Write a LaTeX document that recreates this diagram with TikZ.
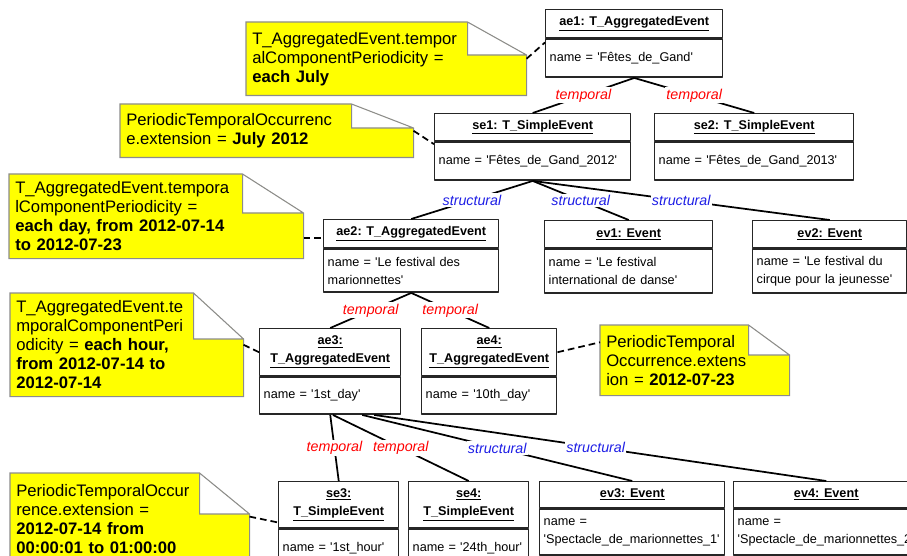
\documentclass[tikz,border=0pt]{standalone}
\usepackage{fontspec}
\setmainfont{Liberation Sans}
\usetikzlibrary{positioning,backgrounds}
\definecolor{noteyellow}{RGB}{255,255,0}
\definecolor{notegray}{RGB}{140,140,140}
\definecolor{tempred}{RGB}{255,0,0}
\definecolor{structblue}{RGB}{30,30,230}
\newcommand{\boxfont}{\fontsize{9.5}{13.5}\selectfont}
\newcommand{\notefont}{\fontsize{12.5}{14.25}\selectfont}
\newcommand{\lblfont}{\fontsize{10.7}{12}\selectfont\itshape}
\newcommand{\sq}{\textquotesingle}
\tikzset{
  objhead/.style={draw=black!85, line width=1.1pt, anchor=north west, inner sep=0pt, align=center, font=\boxfont\bfseries},
  objbody/.style={draw=black!85, line width=1.1pt, anchor=north west, inner xsep=3pt, inner ysep=0pt, align=left, font=\boxfont},
  notebox/.style={anchor=north west, inner xsep=4.5pt, inner ysep=0pt, align=left, font=\notefont},
  notepaper/.style={fill=noteyellow, draw=notegray, line width=0.8pt},
  link/.style={line width=1.3pt},
  notelink/.style={line width=1.3pt, dash pattern=on 5pt off 3pt},
  temporal/.style={fill=white, text=tempred, font=\lblfont, inner sep=1pt},
  structural/.style={fill=white, text=structblue, font=\lblfont, inner sep=1pt}
}
\begin{document}
\begin{tikzpicture}[x=0.75pt, y=-0.75pt, line join=round]
  \useasboundingbox (0,0) rectangle (907,556);
  % objects
  \node[objhead, minimum width=132.75pt, minimum height=21pt] (ae1) at (545,9) {\underline{ae1: T\_AggregatedEvent}};
  \node[objbody, text width=126.75pt, minimum height=28.5pt] (ae1b) at (ae1.south west) {name = \sq F\^etes\_de\_Gand\sq};
  \node[objhead, minimum width=147pt, minimum height=20.25pt] (se1) at (434,113) {\underline{se1: T\_SimpleEvent}};
  \node[objbody, text width=141pt, minimum height=28.5pt] (se1b) at (se1.south west) {name = \sq F\^etes\_de\_Gand\_2012\sq};
  \node[objhead, minimum width=149.25pt, minimum height=20.25pt] (se2) at (654,113) {\underline{se2: T\_SimpleEvent}};
  \node[objbody, text width=143.25pt, minimum height=28.5pt] (se2b) at (se2.south west) {name = \sq F\^etes\_de\_Gand\_2013\sq};
  \node[objhead, minimum width=131.25pt, minimum height=21pt] (ae2) at (323,219) {\underline{ae2: T\_AggregatedEvent}};
  \node[objbody, text width=125.25pt, minimum height=32.25pt] (ae2b) at (ae2.south west) {name = \sq Le festival des\\marionnettes\sq};
  \node[objhead, minimum width=126pt, minimum height=20.25pt] (ev1) at (544,220) {\underline{ev1: Event}};
  \node[objbody, text width=120pt, minimum height=33pt] (ev1b) at (ev1.south west) {name = \sq Le festival\\international de danse\sq};
  \node[objhead, minimum width=115.5pt, minimum height=20.25pt] (ev2) at (752,220) {\underline{ev2: Event}};
  \node[objbody, text width=109.5pt, minimum height=33pt] (ev2b) at (ev2.south west) {name = \sq Le festival du\\cirque pour la jeunesse\sq};
  \node[objhead, minimum width=105.75pt, minimum height=35.25pt] (ae3) at (259,328) {\underline{ae3:}\\\underline{T\_AggregatedEvent}};
  \node[objbody, text width=99.75pt, minimum height=27.75pt] (ae3b) at (ae3.south west) {name = \sq 1st\_day\sq};
  \node[objhead, minimum width=101.25pt, minimum height=35.25pt] (ae4) at (421,328) {\underline{ae4:}\\\underline{T\_AggregatedEvent}};
  \node[objbody, text width=95.25pt, minimum height=27.75pt] (ae4b) at (ae4.south west) {name = \sq 10th\_day\sq};
  \node[objhead, minimum width=90pt, minimum height=34.5pt] (se3) at (278,481) {\underline{se3:}\\\underline{T\_SimpleEvent}};
  \node[objbody, text width=84pt, minimum height=28.5pt] (se3b) at (se3.south west) {name = \sq 1st\_hour\sq};
  \node[objhead, minimum width=90pt, minimum height=34.5pt] (se4) at (408,481) {\underline{se4:}\\\underline{T\_SimpleEvent}};
  \node[objbody, text width=84pt, minimum height=28.5pt] (se4b) at (se4.south west) {name = \sq 24th\_hour\sq};
  \node[objhead, minimum width=138.75pt, minimum height=19.5pt] (ev3) at (539,481) {\underline{ev3: Event}};
  \node[objbody, text width=132.75pt, minimum height=34.5pt] (ev3b) at (ev3.south west) {name =\\\sq Spectacle\_de\_marionnettes\_1\sq};
  \node[objhead, minimum width=138.75pt, minimum height=19.5pt] (ev4) at (733,481) {\underline{ev4: Event}};
  \node[objbody, text width=132.75pt, minimum height=34.5pt] (ev4b) at (ev4.south west) {name =\\\sq Spectacle\_de\_marionnettes\_2\sq};
  % notes
  \node[notebox, text width=201pt, minimum height=54.75pt] (n1) at (246,22) {T\_AggregatedEvent.tempor\\alComponentPeriodicity =\\\textbf{each July}};
  \node[notebox, text width=210.75pt, minimum height=39.75pt] (n2) at (120,104) {PeriodicTemporalOccurrenc\\e.extension = \textbf{July 2012}};
  \node[notebox, text width=211.5pt, minimum height=63pt] (n3) at (9,174) {T\_AggregatedEvent.tempora\\lComponentPeriodicity =\\\textbf{each day, from 2012-07-14}\\\textbf{to 2012-07-23}};
  \node[notebox, text width=165.75pt, minimum height=77.25pt] (n4) at (10,293) {T\_AggregatedEvent.te\\mporalComponentPeri\\odicity = \textbf{each hour,}\\\textbf{from 2012-07-14 to}\\\textbf{2012-07-14}};
  \node[notebox, text width=132.75pt, minimum height=52.5pt] (n5) at (600,325) {PeriodicTemporal\\Occurrence.extens\\ion = \textbf{2012-07-23}};
  \node[notebox, text width=170.25pt, minimum height=68pt] (n6) at (10,473) {PeriodicTemporalOccur\\rence.extension =\\\textbf{2012-07-14 from}\\\textbf{00:00:01 to 01:00:00}};
  \begin{scope}[on background layer]
    \foreach \n/\fx/\fy in {n1/59/33, n2/62/24, n3/61/39, n4/50/46, n5/41/30, n6/50/41}
      \filldraw[notepaper] (\n.north west) -- ([shift={(-\fx,0)}]\n.north east)
        -- ([shift={(0,\fy)}]\n.north east) -- (\n.south east) -- (\n.south west) -- cycle
        ([shift={(-\fx,0)}]\n.north east) -- ([shift={(-\fx,\fy)}]\n.north east) -- ([shift={(0,\fy)}]\n.north east);
  \end{scope}
  % links
  \draw[link] (ae1b.south) -- node[temporal] {temporal} (se1.north);
  \draw[link] (ae1b.south) -- node[temporal] {temporal} (se2.north);
  \draw[link] (se1b.south) -- node[structural] {structural} (ae2.north);
  \draw[link] (se1b.south) -- node[structural] {structural} (ev1.north);
  \draw[link] (se1b.south) -- node[structural] {structural} (ev2.north);
  \draw[link] (ae2b.south) -- node[temporal] {temporal} (ae3.north);
  \draw[link] (ae2b.south) -- node[temporal] {temporal} (ae4.north);
  \draw[link] (ae3b.south) -- node[temporal] {temporal} (se3.north);
  \draw[link] ([xshift=2pt]ae3b.south) -- node[temporal] {temporal} (se4.north);
  \draw[link] ([xshift=24pt]ae3b.south) -- node[structural] {structural} (ev3.north);
  \draw[link] ([xshift=33pt]ae3b.south) -- node[structural, pos=0.49] {structural} (ev4.north);
  % note links
  \draw[notelink] (n1.east) -- ([yshift=-3pt]ae1.south west);
  \draw[notelink] (n2.east) -- ([yshift=-2pt]se1.south west);
  \draw[notelink] ([shift={(0,4)}]n3.east |- ae2.west) -- ([shift={(0,4)}]ae2.west);
  \draw[notelink] (n4.east) -- (ae4.west -| ae3.west);
  \draw[notelink] (ae4.east) -- ([shift={(0,-18)}]n5.west);
  \draw[notelink] ([shift={(0,-2)}]n6.east) -- ([shift={(0,-6)}]se3.south west);
\end{tikzpicture}
\end{document}
